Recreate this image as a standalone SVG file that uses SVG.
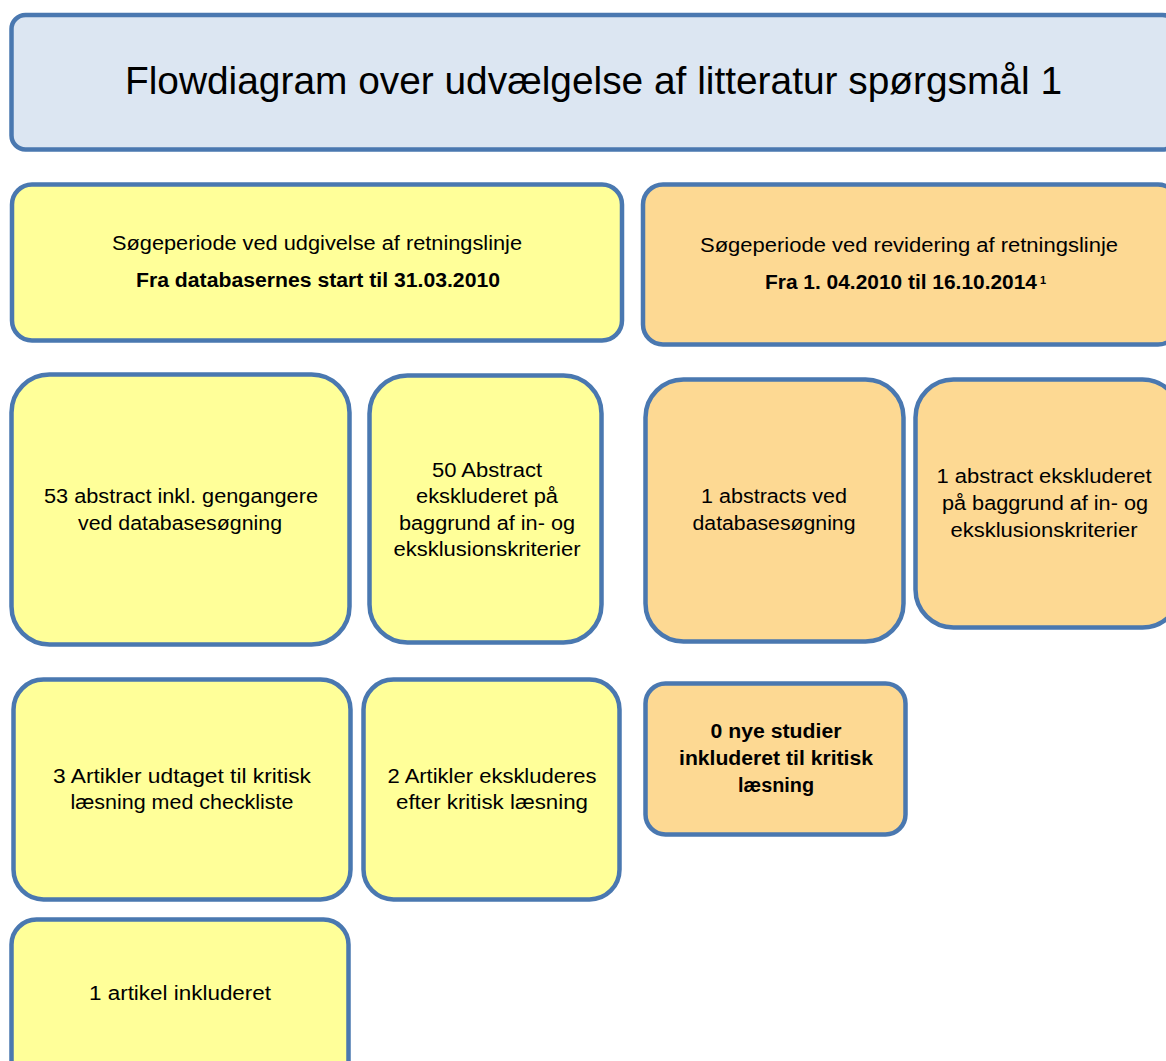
<svg xmlns="http://www.w3.org/2000/svg" width="1166" height="1061" viewBox="0 0 1166 1061">
<style>
.box{stroke:#4A78B0;stroke-width:4.5}
.title{fill:#DCE6F2}
.y{fill:#FFFF99}
.o{fill:#FDD993}
text{font-family:"Liberation Sans",Arial,sans-serif;font-size:20px;fill:#000;text-anchor:middle}
.b{font-weight:bold}
.t{font-size:38px}
</style>
<rect width="1166" height="1061" fill="#fff"/>
<g id="connectors"/>
<g id="title">
<rect class="box title" x="11.5" y="15" width="1165" height="134.5" rx="14"/>
<text class="t" x="593.5" y="94" textLength="937" lengthAdjust="spacingAndGlyphs">Flowdiagram over udvælgelse af litteratur spørgsmål 1</text>
</g>
<g id="period1">
<rect class="box y" x="12" y="184.5" width="610" height="156" rx="20"/>
<text x="317" y="250" textLength="410" lengthAdjust="spacingAndGlyphs">Søgeperiode ved udgivelse af retningslinje</text>
<text class="b" x="318" y="287" textLength="364" lengthAdjust="spacingAndGlyphs">Fra databasernes start til 31.03.2010</text>
</g>
<g id="period2">
<rect class="box o" x="643" y="184.5" width="535" height="160" rx="20"/>
<text x="909" y="252" textLength="418" lengthAdjust="spacingAndGlyphs">Søgeperiode ved revidering af retningslinje</text>
<text class="b" x="901" y="289" textLength="272" lengthAdjust="spacingAndGlyphs">Fra 1. 04.2010 til 16.10.2014</text>
<text class="b" x="1040" y="284" style="font-size:11px;text-anchor:start">1</text>
</g>
<g id="abstracts53">
<rect class="box y" x="11.5" y="374.5" width="338" height="270" rx="38"/>
<text x="181" y="503" textLength="274" lengthAdjust="spacingAndGlyphs">53 abstract inkl. gengangere</text>
<text x="180" y="530" textLength="204" lengthAdjust="spacingAndGlyphs">ved databasesøgning</text>
</g>
<g id="excluded50">
<rect class="box y" x="369.5" y="375.5" width="232" height="267" rx="38"/>
<text x="487" y="477" textLength="110" lengthAdjust="spacingAndGlyphs">50 Abstract</text>
<text x="487" y="503" textLength="142" lengthAdjust="spacingAndGlyphs">ekskluderet på</text>
<text x="487" y="530" textLength="176" lengthAdjust="spacingAndGlyphs">baggrund af in- og</text>
<text x="487" y="556" textLength="187" lengthAdjust="spacingAndGlyphs">eksklusionskriterier</text>
</g>
<g id="abstracts1">
<rect class="box o" x="645.5" y="379.5" width="258" height="262" rx="38"/>
<text x="774" y="503" textLength="146" lengthAdjust="spacingAndGlyphs">1 abstracts ved</text>
<text x="774" y="530" textLength="163" lengthAdjust="spacingAndGlyphs">databasesøgning</text>
</g>
<g id="excluded1">
<rect class="box o" x="915.5" y="379.5" width="265" height="248" rx="38"/>
<text x="1044" y="483" textLength="215" lengthAdjust="spacingAndGlyphs">1 abstract ekskluderet</text>
<text x="1045" y="510" textLength="206" lengthAdjust="spacingAndGlyphs">på baggrund af in- og</text>
<text x="1044" y="537" textLength="187" lengthAdjust="spacingAndGlyphs">eksklusionskriterier</text>
</g>
<g id="articles3">
<rect class="box y" x="13.5" y="679.5" width="337" height="220" rx="30"/>
<text x="182" y="783" textLength="258" lengthAdjust="spacingAndGlyphs">3 Artikler udtaget til kritisk</text>
<text x="182" y="809" textLength="223" lengthAdjust="spacingAndGlyphs">læsning med checkliste</text>
</g>
<g id="articles2">
<rect class="box y" x="363.5" y="679.5" width="256" height="220" rx="30"/>
<text x="492" y="783" textLength="209" lengthAdjust="spacingAndGlyphs">2 Artikler ekskluderes</text>
<text x="492" y="809" textLength="192" lengthAdjust="spacingAndGlyphs">efter kritisk læsning</text>
</g>
<g id="included1">
<rect class="box y" x="11.5" y="919.5" width="337" height="170" rx="25"/>
<text x="180" y="1000" textLength="182" lengthAdjust="spacingAndGlyphs">1 artikel inkluderet</text>
</g>
<g id="new0">
<rect class="box o" x="645.5" y="683.5" width="260" height="151" rx="20"/>
<text class="b" x="776" y="738" textLength="131" lengthAdjust="spacingAndGlyphs">0 nye studier</text>
<text class="b" x="776" y="765" textLength="194" lengthAdjust="spacingAndGlyphs">inkluderet til kritisk</text>
<text class="b" x="776" y="792" textLength="76" lengthAdjust="spacingAndGlyphs">læsning</text>
</g>
</svg>
